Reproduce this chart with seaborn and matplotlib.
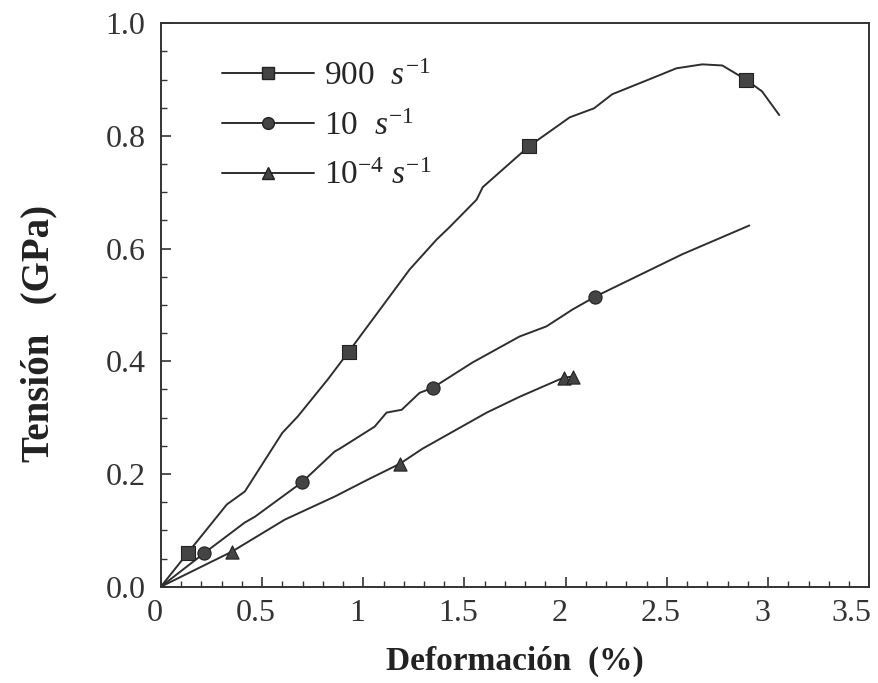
import numpy as np
import pandas as pd
import seaborn as sns
import matplotlib.pyplot as plt
import matplotlib.transforms as mtransforms
from matplotlib.lines import Line2D
from matplotlib.ticker import MultipleLocator, FormatStrFormatter

sns.set_theme(style='ticks')
plt.rcParams['font.family'] = ['Liberation Serif', 'DejaVu Serif']
plt.rcParams['mathtext.fontset'] = 'custom'
plt.rcParams['mathtext.rm'] = 'Liberation Serif'
plt.rcParams['mathtext.it'] = 'Liberation Serif:italic'

# strain (%) / stress (GPa)
x_900 = [0, 0.133, 0.326, 0.415, 0.60, 0.676, 0.825, 0.928, 1.229, 1.362, 1.426,
         1.56, 1.59, 1.82, 2.02, 2.14, 2.23, 2.41, 2.547, 2.675, 2.774, 2.89, 2.97, 3.055]
y_900 = [0, 0.060, 0.146, 0.169, 0.273, 0.302, 0.368, 0.417, 0.563, 0.616, 0.638,
         0.687, 0.709, 0.782, 0.833, 0.849, 0.874, 0.900, 0.920, 0.927, 0.925, 0.900, 0.879, 0.837]
x_10 = [0, 0.212, 0.415, 0.464, 0.696, 0.859, 0.884, 1.056, 1.115, 1.19, 1.278, 1.343,
        1.54, 1.772, 1.905, 2.034, 2.147, 2.576, 2.907]
y_10 = [0, 0.059, 0.114, 0.124, 0.185, 0.240, 0.245, 0.284, 0.309, 0.314, 0.344, 0.353,
        0.398, 0.444, 0.462, 0.492, 0.515, 0.590, 0.641]
x_4 = [0, 0.350, 0.612, 0.859, 1.022, 1.18, 1.293, 1.61, 1.772, 1.97, 1.994, 2.034]
y_4 = [0, 0.062, 0.119, 0.160, 0.190, 0.218, 0.245, 0.309, 0.337, 0.368, 0.371, 0.373]

# points that carry a symbol
mx_900 = [0.133, 0.928, 1.82, 2.89]
my_900 = [0.060, 0.417, 0.782, 0.900]
mx_10 = [0.212, 0.696, 1.343, 2.147]
my_10 = [0.059, 0.185, 0.353, 0.515]
mx_4 = [0.350, 1.18, 1.994, 2.034]
my_4 = [0.062, 0.218, 0.371, 0.373]

labels = ['900  $s^{-1}$', '10  $s^{-1}$', '10$^{-4}$ $s^{-1}$']
markers = ['s', 'o', '^']
xtick_vals = [0, 0.5, 1, 1.5, 2, 2.5, 3, 3.5]
xtick_text = ['0', '0.5', '1', '1.5', '2', '2.5', '3', '3.5']

line_c = '#2e2e2e'
mark_c = '#444444'

fig = plt.figure(figsize=(8.79, 6.83), dpi=100)
ax = fig.add_axes([0.183, 0.141, 0.806, 0.825])

series = [(x_900, y_900, mx_900, my_900), (x_10, y_10, mx_10, my_10), (x_4, y_4, mx_4, my_4)]
handles = []
for (xs, ys, mxs, mys), lab, m in zip(series, labels, markers):
    df = pd.DataFrame({'x': xs, 'y': ys})
    sns.lineplot(data=df, x='x', y='y', sort=False, color=line_c, lw=1.4, ax=ax)
    dm = pd.DataFrame({'x': mxs, 'y': mys})
    sns.scatterplot(data=dm, x='x', y='y', marker=m, s=90, color=mark_c,
                    edgecolor='#222222', linewidth=0.8, ax=ax, zorder=3)
    handles.append(Line2D([], [], color=line_c, lw=1.4, marker=m, markersize=8.5,
                          markerfacecolor=mark_c, markeredgecolor='#222222', label=lab))

ax.set_xlim(0, 3.5)
ax.set_ylim(0, 1.0)
ax.xaxis.set_minor_locator(MultipleLocator(0.1))
ax.yaxis.set_major_locator(MultipleLocator(0.2))
ax.yaxis.set_minor_locator(MultipleLocator(0.05))
ax.yaxis.set_major_formatter(FormatStrFormatter('%.1f'))
ax.set_xticks(xtick_vals)
ax.set_xticklabels(xtick_text)

ax.tick_params(which='both', direction='in', top=False, right=False, colors='#333333')
ax.tick_params(which='major', length=7, width=1.2, labelsize=23)
ax.tick_params(axis='y', which='major', pad=11)
ax.tick_params(axis='x', which='major', pad=9)
ax.tick_params(which='minor', length=4, width=1.0)
for sp in ax.spines.values():
    sp.set_linewidth(1.4)
    sp.set_color('#333333')

# the scanned tick labels sit a little left of their ticks
shift = mtransforms.ScaledTranslation(-6 / 100, 0, fig.dpi_scale_trans)
for t in ax.get_xticklabels():
    t.set_transform(t.get_transform() + shift)
ax.get_xticklabels()[-1].set_horizontalalignment('right')
ax.get_xticklabels()[-1].set_transform(ax.get_xticklabels()[-1].get_transform()
                                       + mtransforms.ScaledTranslation(8 / 100, 0, fig.dpi_scale_trans))

ax.set_xlabel('Deformación  (%)', fontsize=24, fontweight='bold', color='#222222', labelpad=13)
ax.set_ylabel('Tensión   (GPa)', fontsize=28, fontweight='bold', color='#222222')
ax.yaxis.set_label_coords(-0.146, 0.45)

ax.legend(handles=handles, loc='upper left', bbox_to_anchor=(0.087, 0.933), frameon=False,
          borderaxespad=0, borderpad=0, fontsize=24, handlelength=2.75,
          labelspacing=0.58, handletextpad=0.3)

fig.savefig('out.png', dpi=100)
